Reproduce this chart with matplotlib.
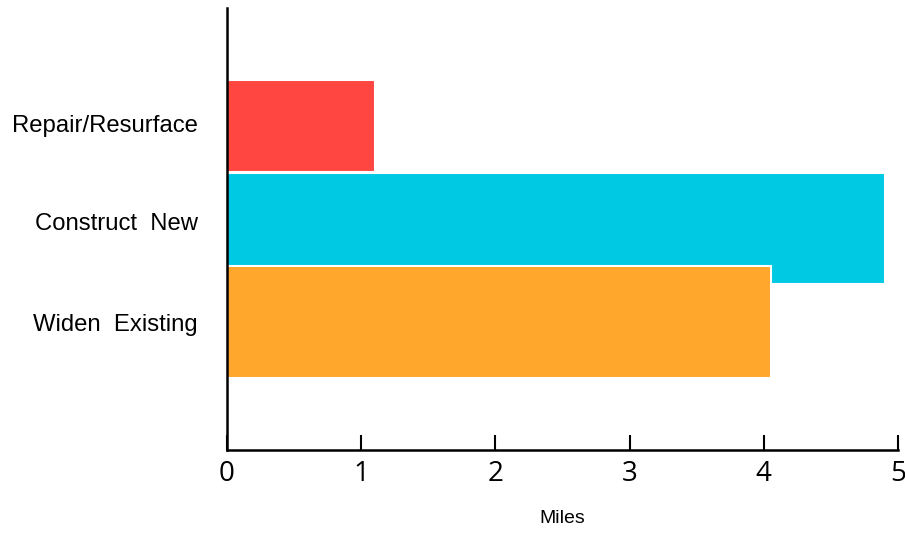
import matplotlib.pyplot as plt

# data
categories = ['Widen  Existing', 'Construct  New', 'Repair/Resurface']
miles = [4.05, 4.9, 1.1]
bar_pos = [0.0, 0.954, 2.0]
bar_height = [1.14, 1.13, 0.94]
colors = ['#FFA62C', '#00C9E4', '#FF4641']
x_ticks = [0, 1, 2, 3, 4, 5]

fig = plt.figure(figsize=(9.05, 5.33), dpi=100)
ax = fig.add_axes([227 / 905, 1 - 450 / 533, (898 - 227) / 905, (450 - 8) / 533])

# draw red first, then cyan, orange on top
for i in [2, 1, 0]:
    ax.barh(bar_pos[i], miles[i], height=bar_height[i], color=colors[i],
            edgecolor='white', linewidth=1.5, zorder=2 + (2 - i))

ax.set_xlim(0, 5)
ax.set_ylim(-1.306, 3.204)
ax.set_xticks(x_ticks)
ax.set_xticklabels([str(t) for t in x_ticks], fontsize=20, family='Open Sans')
ax.set_yticks([0, 1.03, 2.03])
ax.set_yticklabels(categories, fontsize=17.2, family='Liberation Sans')

for s in ['top', 'right']:
    ax.spines[s].set_visible(False)
for s in ['left', 'bottom']:
    ax.spines[s].set_linewidth(1.8)
    ax.spines[s].set_color('black')
    ax.spines[s].set_zorder(10)

ax.tick_params(axis='x', direction='in', length=11, width=1.5, pad=7)
ax.tick_params(axis='y', length=0, pad=21)

ax.set_xlabel('Miles', fontsize=14, family='Liberation Sans', labelpad=16)

fig.savefig('out.png', dpi=100)
